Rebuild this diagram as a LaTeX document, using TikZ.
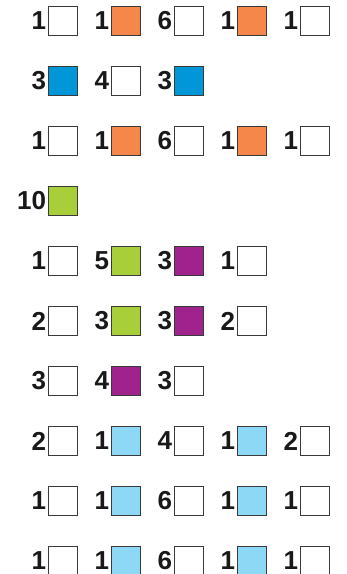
\documentclass[tikz,border=0pt]{standalone}
\usepackage{fontspec}
\setmainfont{Liberation Sans}
\usetikzlibrary{positioning}

\definecolor{boxline}{HTML}{3A3A3A}
\definecolor{orange}{HTML}{F5874A}
\definecolor{blue}{HTML}{0096D8}
\definecolor{green}{HTML}{A8CE3A}
\definecolor{purple}{HTML}{A0228C}
\definecolor{sky}{HTML}{8CD8F5}

\begin{document}
\begin{tikzpicture} [
        x=1pt, y=-1pt,
        cellbox/.style={
            rectangle,
            draw=boxline,
            line width=1.3pt,
            fill=#1,
            minimum size=28.5pt,
            inner sep=0pt,
            outer sep=0pt},
        count/.style={
            font=\fontsize{26}{26}\selectfont\bfseries,
            text=black!90,
            inner sep=0pt}]

    \useasboundingbox (0,0) rectangle (347,574);

    %one row per line, number/colour for every box
    \foreach \cells [count=\row] in {
            {1/white,1/orange,6/white,1/orange,1/white},
            {3/blue,4/white,3/blue},
            {1/white,1/orange,6/white,1/orange,1/white},
            {10/green},
            {1/white,5/green,3/purple,1/white},
            {2/white,3/green,3/purple,2/white},
            {3/white,4/purple,3/white},
            {2/white,1/sky,4/white,1/sky,2/white},
            {1/white,1/sky,6/white,1/sky,1/white},
            {1/white,1/sky,6/white,1/sky,1/white}} {
        \foreach \n/\c [count=\col] in \cells {
            \node[cellbox=\c] (box-\row-\col) at (63*\col,60*\row-39) {};
            \node[count,left=2.5pt of box-\row-\col] (num-\row-\col) {\n};
        }
    }

\end{tikzpicture}
\end{document}
